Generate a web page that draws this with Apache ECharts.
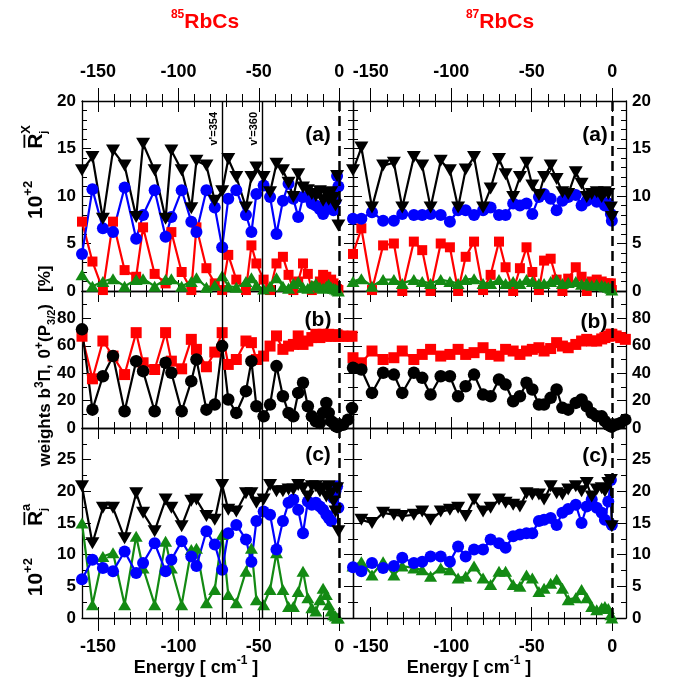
<!DOCTYPE html>
<html>
<head>
<meta charset="utf-8">
<script src="https://cdn.jsdelivr.net/npm/echarts@6/dist/echarts.min.js"></script>
<style>
html, body { margin: 0; padding: 0; background: #ffffff; }
#chart { width: 684px; height: 684px; }
</style>
</head>
<body>
<div id="chart"></div>
<script>
// ---- Level energies (cm^-1) ----
const levels85 = [-160, -153.5, -147, -140.7, -133.5, -126.3, -122, -114.8, -108, -104.4,
  -98, -92, -88.8, -82.6, -77.4, -72.8, -69, -64, -58, -54.6,
  -51.5, -47, -43, -39, -35, -31.5, -28.5, -25.5, -22.5, -19.5,
  -17, -14.5, -12, -10, -8, -6.5, -5, -3.5, -2.3, -1.3, -0.5];
const levels87 = [-161, -155.8, -149.2, -142.3, -135.6, -130.4, -123.2, -118, -112.8, -106.5,
  -100.8, -95.7, -91, -85.8, -80.2, -75.5, -70.3, -66.2, -61.5, -57.3,
  -53.2, -49.6, -45.5, -42.3, -38.2, -34.5, -30.9, -27.3, -22.6, -19,
  -15.8, -12.7, -9.6, -6.5, -4.5, -2.4, -0.8, -0.2];
// levels above threshold that appear only in the weight panels
const above85 = [2.4, 5.5, 8.0];
const above87 = [2.5, 5.3, 8.2];

// ---- (a) 10^2 R_j^X ----
const a85Down = [12.7, 14.1, 7.6, 14.8, 13.2, 7.8, 15.5, 12.7, 7.6, 14.8, 12.7, 8.7, 13.7, 13.2, 9.5, 10.5, 13.9, 12, 8.8, 12, 13, 12, 10.4, 13.4, 12.7, 11.4, 9.9, 12.3, 10.9, 10.6, 10.2, 10, 10.5, 9.5, 10.2, 9.6, 10.4, 9.8, 9, 12.1, 6.9];
const a85Circle = [3.9, 10.7, 6.6, 6.2, 10.9, 5.5, 8.0, 10.6, 5.7, 7.8, 10.6, 7.3, 6.2, 10.6, 8.8, 4.6, 9.7, 10.6, 8.0, 6.2, 10.2, 11.1, 9.9, 6.0, 9.5, 11.3, 9.7, 7.8, 9.9, 9.9, 9.2, 9.0, 8.6, 8.1, 9.5, 9.0, 10.0, 8.5, 9.5, 12.1, 11.0];
const a85Square = [7.3, 3.1, 0.1, 7.3, 2.2, 1.5, 6.7, 1.8, 0.8, 6.2, 2.0, 0.1, 6.7, 2.4, 0.8, 0.1, 3.8, 1.2, 0.1, 4.8, 2.9, 1.2, 0.1, 2.9, 3.6, 1.7, 0.1, 1.0, 2.9, 1.8, 0.1, 0.5, 1.0, 1.7, 1.5, 0.5, 1.2, 0.8, 0.5, 0.2, 0.1];
const a85Up = [1.7, 0.5, 1.0, 1.3, 0.5, 1.2, 1.3, 0.5, 1.2, 1.3, 0.5, 1.0, 1.4, 0.4, 0.6, 1.6, 0.5, 0.4, 1.0, 1.4, 0.6, 0.2, 0.5, 1.4, 0.5, 0.3, 0.8, 1.0, 0.4, 0.3, 0.6, 0.8, 0.4, 0.3, 0.5, 0.7, 0.4, 0.3, 0.2, 0.1, 0.0];

const a87Down = [12.7, 15.1, 8.8, 13.2, 13.5, 8.8, 14.1, 13.2, 8.8, 13.7, 12.7, 8.8, 12.8, 14.1, 8.8, 10.8, 13.9, 12.3, 9.9, 12.0, 13.5, 11.1, 10.1, 12.0, 13.2, 11.8, 10.4, 10.2, 12.5, 11.3, 9.9, 10.2, 10.4, 9.9, 10.4, 10.2, 8.8, 7.8];
const a87Circle = [7.6, 7.6, 8.3, 7.4, 7.4, 8.1, 8.0, 8.0, 8.1, 8.0, 7.3, 8.5, 8.5, 8.0, 8.5, 8.8, 8.0, 8.0, 9.2, 9.0, 9.2, 8.1, 9.9, 10.2, 9.7, 8.5, 9.5, 9.9, 10.1, 9.0, 9.5, 9.9, 9.4, 9.5, 9.0, 9.2, 8.1, 7.4];
const a87Square = [3.9, 6.6, 0.1, 4.8, 5.0, 0.0, 5.2, 4.3, 0.0, 5.0, 4.6, 0.0, 3.6, 5.2, 0.1, 1.7, 5.2, 2.5, 0.0, 2.4, 4.6, 2.0, 0.1, 3.2, 3.4, 1.2, 0.0, 1.3, 2.5, 1.5, 0.0, 1.0, 1.2, 1.0, 0.8, 0.8, 0.8, 0.1];
const a87Up = [1.0, 1.3, 0.5, 1.2, 1.2, 0.8, 1.2, 1.0, 0.8, 1.2, 1.0, 0.8, 1.2, 1.3, 0.8, 0.8, 1.2, 0.8, 1.0, 0.8, 1.2, 1.0, 0.8, 0.8, 1.0, 1.2, 0.8, 0.9, 1.0, 0.7, 0.8, 0.6, 0.7, 0.6, 0.5, 0.4, 0.3, 0.1];

// ---- (b) weights [%] : b3Pi (squares) and 0+(P3/2) (dots) ----
const b85Square = [67, 35.9, 63.5, 52.5, 39, 69.6, 47.6, 42.7, 69.6, 48.8, 43.2, 64.7, 57.4, 44.7, 55.4, 69.6, 46.4, 50, 63.5, 62.3, 50, 52.5, 59.8, 67.2, 57.4, 59.8, 61, 67.2, 61, 63.5, 66, 68.4, 66, 68.4, 67, 68.4, 67, 68, 67, 68, 67];
const b85SquareAbove = [67, 67, 67];
const b85Dot = [72, 13.4, 37.8, 52.5, 12.2, 48.8, 41.5, 12.2, 47.6, 40.3, 12.2, 34.2, 50, 13.4, 17.1, 59.8, 20.8, 11, 26.9, 48.8, 15.9, 8.5, 17.1, 45.2, 23.2, 11, 8.5, 25.6, 33, 15.9, 8.5, 4.9, 3.7, 11, 18.3, 11, 5, 3.7, 1.5, 0.8, 1.2];
const b85DotAbove = [2.4, 6.1, 14.6];

const b87Square = [51.3, 47.6, 56.2, 50, 51.3, 56.2, 50, 53.7, 57.4, 52.5, 53.7, 57.4, 53.7, 55, 58.6, 53.7, 52.5, 57.4, 56.2, 53.7, 56.2, 57.4, 58.6, 56.2, 58, 62.3, 59.8, 58.6, 61, 63.5, 64.7, 63.5, 63.5, 65, 66, 67, 68.4, 68.4];
const b87SquareAbove = [67.2, 66, 64.7];
const b87Dot = [44, 42.7, 25.6, 40.3, 39, 25.6, 40.3, 36.6, 24.4, 37.8, 37.8, 23.2, 30.5, 39, 24.4, 23.2, 35.4, 31.7, 19.5, 23.2, 33, 28.1, 17.1, 17.1, 22, 28.1, 14.7, 13.4, 18.3, 20.8, 15.9, 11, 8.5, 8.5, 5, 2.4, 1.2, 1.0];
const b87DotAbove = [2.5, 3.7, 6.1];

// ---- (c) 10^2 R_j^a ----
const c85Down = [20.8, 11.8, 17.4, 17.4, 12.6, 19.7, 16.6, 13.7, 18.7, 17.4, 14.5, 18.5, 18.7, 16.1, 15.5, 21, 17.1, 16.8, 19.7, 19.7, 18.2, 18.7, 21, 20, 20, 20.3, 20.3, 21, 20.5, 19.2, 20.8, 20.8, 20, 20.5, 19.2, 20.8, 19.7, 18.4, 16.8, 20.5, 13.7];
const c85Circle = [6.1, 9.2, 7.9, 7.4, 10.5, 7.1, 8.7, 11.8, 7.4, 9.2, 12.1, 9.7, 8.2, 13.7, 11.6, 7.6, 13.4, 14.7, 12.4, 8.9, 15.3, 16.8, 16.3, 10.8, 15.3, 18.2, 18.7, 17.1, 13.4, 18.4, 17.9, 18.2, 17.6, 17.1, 16.3, 15.8, 15.3, 18.9, 20, 20.8, 17.4];
const c85Up = [15, 2.1, 9.7, 10.3, 2.1, 12.9, 7.9, 2.1, 12.1, 7.9, 2.1, 10.8, 11, 2.4, 4.5, 13.2, 3.7, 2.4, 7.4, 11, 2.9, 2.1, 4.5, 10.3, 4.5, 1.8, 1.8, 4.2, 7.4, 3.2, 1.6, 1.1, 2.9, 4.7, 3.7, 2.1, 1.1, 0.5, 0.3, 0, 0];

const c87Down = [null, 15.5, 15, 16.6, 16.3, 16.1, 16.3, 16.8, 15.5, 16.8, 17.1, 17.4, 16.1, 18.7, 16.8, 17.4, 18.7, 18.2, 17.9, 17.6, 19.7, 19.5, 19.5, 18.7, 20.8, 19.7, 19.5, 20.3, 20.8, 20, 21.3, 19.2, 20.3, 20.5, 20, 21.3, 21.8, 14.5];
const c87Circle = [8.0, 7.4, 8.7, 7.9, 8.2, 9.5, 8.7, 8.9, 9.7, 9.7, 8.9, 11.3, 9.7, 10.8, 10.8, 12.4, 11.8, 11.1, 12.9, 13.2, 13.4, 13.4, 15.3, 15.5, 15.8, 14.7, 16.6, 17.2, 17.9, 15, 17.6, 18.7, 17.4, 16.6, 15.5, 18.4, 21.8, 14.7];
const c87Up = [8.2, 8.9, 6.8, 8.9, 6.8, 8.2, 7.9, 7.6, 6.6, 7.9, 7.6, 6.3, 6.6, 8.2, 6.3, 5.3, 7.4, 7.4, 5.3, 5.0, 6.8, 6.3, 4.2, 4.7, 5.5, 6.1, 4.7, 2.9, 3.2, 4.5, 3.2, 1.8, 1.3, 1.6, 1.8, 1.5, 0.5, 0.0];

// ---- reference levels and axis ticks ----
const markedLevels = [-72.9, -48];
const markedLabels = ["v'=354", "v'=360"];
const majorX = [-150, -100, -50, 0];
const minorX = [-140, -130, -120, -110, -90, -80, -70, -60, -40, -30, -20, -10];
const rangeX85 = [-160, 8.6];
const rangeX87 = [-161, 8.6];
const panelTags = ['(a)', '(b)', '(c)'];

// ---- layout ----
const FONT = '"Liberation Sans", Arial, Helvetica, sans-serif';
const COLS = [{ left: 82, width: 271 }, { left: 353, width: 273 }];
const ROWS = [
  { top: 101, height: 190, max: 20, interval: 5, minor: 5, showMax: true },
  { top: 291, height: 137, max: 100, interval: 20, minor: 2, showMax: false },
  { top: 428, height: 190, max: 30, interval: 5, minor: 2, showMax: false }
];
const STY = {
  down:   { symbol: 'triangle', rotate: 180, size: [14, 12], color: '#000000' },
  circle: { symbol: 'circle', size: 12, color: '#0000ff' },
  square: { symbol: 'rect', size: 10, color: '#ff0000' },
  square2:{ symbol: 'rect', size: 11, color: '#ff0000' },
  up:     { symbol: 'triangle', size: [13, 11], color: '#138a13' },
  dot:    { symbol: 'circle', size: 12.5, color: '#000000' }
};

const grids = [], xAxes = [], yAxes = [], series = [], graphics = [];
const tickLine = { color: '#000', width: 1 };
const frameLine = { show: true, onZero: false, lineStyle: { color: '#000', width: 1.3 } };
const xLabel = {
  show: true, customValues: majorX, margin: 20, fontSize: 18, fontWeight: 'bold',
  fontFamily: FONT, color: '#000', formatter: v => String(Math.round(v))
};

function pushX(g, range, pos, extra) {
  xAxes.push(Object.assign({
    type: 'value', gridIndex: g, min: range[0], max: range[1], position: pos,
    splitLine: { show: false }, axisLine: { show: false, onZero: false },
    axisTick: { show: false }, axisLabel: { show: false }, axisPointer: { show: false }
  }, extra));
  return xAxes.length - 1;
}
function ticks(inside, len, values) {
  return { show: true, inside: inside, length: len, customValues: values, lineStyle: tickLine };
}
function pushY(g, row, pos, withLabels) {
  yAxes.push({
    type: 'value', gridIndex: g, min: 0, max: row.max, interval: row.interval, position: pos,
    splitLine: { show: false }, minorSplitLine: { show: false },
    axisLine: frameLine,
    axisTick: { show: true, inside: true, length: 9, lineStyle: tickLine },
    minorTick: { show: true, splitNumber: row.minor, length: 5, lineStyle: tickLine },
    axisLabel: {
      show: withLabels, margin: 6, fontSize: 17, fontWeight: 'bold', fontFamily: FONT,
      color: '#000', showMaxLabel: row.showMax, showMinLabel: true
    },
    axisPointer: { show: false }
  });
  return yAxes.length - 1;
}
function pairs(xs, ys) { return xs.map((x, i) => [x, ys[i]]); }
function line(data, sty, xi, yi) {
  return {
    type: 'line', xAxisIndex: xi, yAxisIndex: yi, data: data,
    symbol: sty.symbol, symbolSize: sty.size, symbolRotate: sty.rotate || 0,
    showAllSymbol: true, clip: false, silent: true, animation: false,
    itemStyle: { color: sty.color, opacity: 1 },
    lineStyle: { color: sty.color, width: 2.2 },
    emphasis: { disabled: true }
  };
}

function buildPanel(col, row, range, seriesList) {
  const g = grids.length;
  grids.push({ left: COLS[col].left, width: COLS[col].width, top: ROWS[row].top, height: ROWS[row].height, outerBoundsMode: 'none', containLabel: false });
  const xi = pushX(g, range, 'bottom', { axisLine: frameLine, axisTick: ticks(true, 11, majorX), axisLabel: row === 2 ? xLabel : { show: false } });
  pushX(g, range, 'bottom', { axisTick: ticks(true, 6, minorX) });
  pushX(g, range, 'top', { axisLine: frameLine, axisTick: ticks(true, 11, majorX), axisLabel: row === 0 ? xLabel : { show: false } });
  pushX(g, range, 'top', { axisTick: ticks(true, 6, minorX) });
  if (row === 0) {
    pushX(g, range, 'top', { axisTick: ticks(false, 13, majorX) });
    pushX(g, range, 'top', { axisTick: ticks(false, 7, minorX) });
  }
  if (row === 2) {
    pushX(g, range, 'bottom', { axisTick: ticks(false, 13, majorX) });
    pushX(g, range, 'bottom', { axisTick: ticks(false, 7, minorX) });
  }
  const yi = pushY(g, ROWS[row], 'left', col === 0);
  pushY(g, ROWS[row], 'right', col === 1);

  const first = series.length;
  seriesList.forEach(s => series.push(line(s.data, s.sty, xi, yi)));

  // threshold line and, on the left, the two marked levels
  const ml = [{ xAxis: 0, lineStyle: { type: [10, 5], width: 2.5, color: '#000' } }];
  if (col === 0) {
    markedLevels.forEach((v, k) => {
      const item = { xAxis: v, lineStyle: { type: 'solid', width: 1.4, color: '#000' } };
      if (row === 0) {
        item.label = {
          show: true, formatter: markedLabels[k], position: 'insideEndTop', distance: 3,
          fontSize: 11, fontWeight: 'bold', fontFamily: FONT, color: '#000', padding: [0, 8, 0, 0]
        };
      }
      ml.push(item);
    });
  }
  series[first].markLine = {
    silent: true, animation: false, symbol: ['none', 'none'],
    label: { show: false }, emphasis: { disabled: true }, data: ml
  };
}

// left column: 85RbCs
buildPanel(0, 0, rangeX85, [
  { data: pairs(levels85, a85Square), sty: STY.square },
  { data: pairs(levels85, a85Up), sty: STY.up },
  { data: pairs(levels85, a85Circle), sty: STY.circle },
  { data: pairs(levels85, a85Down), sty: STY.down }
]);
buildPanel(0, 1, rangeX85, [
  { data: pairs(levels85.concat(above85), b85Square.concat(b85SquareAbove)), sty: STY.square2 },
  { data: pairs(levels85.concat(above85), b85Dot.concat(b85DotAbove)), sty: STY.dot }
]);
buildPanel(0, 2, rangeX85, [
  { data: pairs(levels85, c85Up), sty: STY.up },
  { data: pairs(levels85, c85Circle), sty: STY.circle },
  { data: pairs(levels85, c85Down), sty: STY.down }
]);
// right column: 87RbCs
buildPanel(1, 0, rangeX87, [
  { data: pairs(levels87, a87Square), sty: STY.square },
  { data: pairs(levels87, a87Up), sty: STY.up },
  { data: pairs(levels87, a87Circle), sty: STY.circle },
  { data: pairs(levels87, a87Down), sty: STY.down }
]);
buildPanel(1, 1, rangeX87, [
  { data: pairs(levels87.concat(above87), b87Square.concat(b87SquareAbove)), sty: STY.square2 },
  { data: pairs(levels87.concat(above87), b87Dot.concat(b87DotAbove)), sty: STY.dot }
]);
buildPanel(1, 2, rangeX87, [
  { data: pairs(levels87, c87Up), sty: STY.up },
  { data: pairs(levels87, c87Circle), sty: STY.circle },
  { data: pairs(levels87, c87Down), sty: STY.down }
]);

// ---- text with super/subscripts, laid out run by run ----
const measureCtx = document.createElement('canvas').getContext('2d');
function measure(t, s) {
  measureCtx.font = 'bold ' + s + 'px ' + FONT;
  return measureCtx.measureText(t).width;
}
// run: { t: text, s: font size, up: baseline raise, stack: share x with previous run, bar: overline, gap: blank width }
function runText(runs, cx, cy, rotation, color, base) {
  const kids = [];
  let x = 0, prevStart = 0;
  runs.forEach(r => {
    if (r.gap) { x += r.gap; return; }
    const start = r.stack ? prevStart : x;
    const w = measure(r.t, r.s);
    kids.push({
      type: 'text', x: start, y: base - (r.up || 0) - 0.31 * r.s, silent: true,
      style: { text: r.t, fontFamily: FONT, fontWeight: 'bold', fontSize: r.s, fill: color, align: 'left', verticalAlign: 'middle' }
    });
    if (r.bar) {
      const yb = base - 0.72 * r.s - 3;
      kids.push({ type: 'line', silent: true, shape: { x1: start + 1, y1: yb, x2: start + w - 1, y2: yb }, style: { stroke: color, lineWidth: 1.8 } });
    }
    prevStart = start;
    x = Math.max(x, start + w);
  });
  const half = x / 2;
  kids.forEach(k => {
    if (k.type === 'text') k.x -= half;
    else { k.shape.x1 -= half; k.shape.x2 -= half; }
  });
  return { type: 'group', x: cx, y: cy, rotation: rotation, children: kids };
}

// isotope headings
graphics.push(runText([{ t: '85', s: 12, up: 10 }, { t: 'RbCs', s: 21 }], 205, 21, 0, '#ff0000', 7.5));
graphics.push(runText([{ t: '87', s: 12, up: 10 }, { t: 'RbCs', s: 21 }], 500, 21, 0, '#ff0000', 7.5));

// energy axis titles
const energyRuns = [{ t: 'Energy [ cm', s: 18 }, { t: '-1', s: 12, up: 9 }, { t: ' ]', s: 18 }];
graphics.push(runText(energyRuns, 196, 667, 0, '#000', 6.5));
graphics.push(runText(energyRuns, 469, 667, 0, '#000', 6.5));

// vertical axis titles
const rxRuns = [{ t: '10', s: 21 }, { t: '+2', s: 13, up: 10 }, { gap: 32 }, { t: 'R', s: 21, bar: true }, { t: 'j', s: 11, up: -5 }, { t: 'X', s: 13, up: 12, stack: true }];
const raRuns = [{ t: '10', s: 21 }, { t: '+2', s: 13, up: 10 }, { gap: 32 }, { t: 'R', s: 21, bar: true }, { t: 'j', s: 11, up: -5 }, { t: 'a', s: 13, up: 12, stack: true }];
const wRuns = [{ t: 'weights b', s: 17 }, { t: '3', s: 12, up: 8 }, { t: '\u03a0,', s: 17 }, { gap: 6 }, { t: '0', s: 17 },
  { t: '+', s: 12, up: 8 }, { t: '(P', s: 17 }, { t: '3/2', s: 11, up: -4 }, { t: ')', s: 17 }, { gap: 12 }, { t: '[%]', s: 17 }];
graphics.push(runText(rxRuns, 35, 172, Math.PI / 2, '#000', 7.5));
graphics.push(runText(wRuns, 45, 366, Math.PI / 2, '#000', 6));
graphics.push(runText(raRuns, 35, 550, Math.PI / 2, '#000', 7.5));

// panel tags
const tagPos = [[318, 135], [318, 320], [318, 455], [595, 135], [594, 322], [595, 456]];
tagPos.forEach((p, i) => {
  graphics.push({
    type: 'text', x: p[0], y: p[1], silent: true,
    style: { text: panelTags[i % 3], fontFamily: FONT, fontWeight: 'bold', fontSize: 21, fill: '#000', align: 'center', verticalAlign: 'middle' }
  });
});

const chart = echarts.init(document.getElementById('chart'), null, { renderer: 'canvas' });
chart.setOption({
  backgroundColor: '#ffffff',
  animation: false,
  grid: grids,
  xAxis: xAxes,
  yAxis: yAxes,
  series: series,
  graphic: graphics
});
</script>
</body>
</html>
